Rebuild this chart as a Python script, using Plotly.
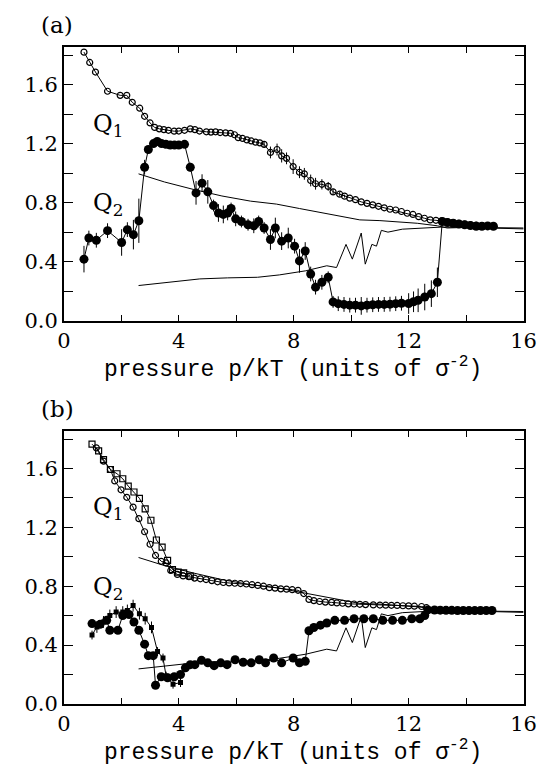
import plotly.graph_objects as go

# ---------------- data ----------------
# Panel (a)
q1a_x = [0.70, 0.90, 1.10, 1.52, 1.96, 2.19, 2.38, 2.64, 2.81, 3.00, 3.16, 3.32, 3.48, 3.64, 3.84, 4.00,
         4.20, 4.40, 4.56, 4.72, 4.96, 5.12, 5.28, 5.44, 5.63, 5.80, 5.94, 6.07, 6.22, 6.37, 6.52, 6.67,
         6.82, 6.97, 7.19, 7.42, 7.58, 7.75, 7.98, 8.20, 8.37, 8.59, 8.76, 8.98, 9.20, 9.37, 9.60, 9.77,
         9.95, 10.15, 10.35, 10.55, 10.75, 10.95, 11.15, 11.35, 11.55, 11.75, 11.95, 12.15, 12.35, 12.55,
         12.75, 12.95, 13.15, 13.35, 13.55, 13.75, 13.95, 14.15, 14.35, 14.55, 14.75, 14.95]
q1a_y = [1.82, 1.75, 1.685, 1.555, 1.527, 1.527, 1.48, 1.44, 1.385, 1.34, 1.31, 1.30, 1.295, 1.29, 1.284, 1.285,
         1.29, 1.30, 1.295, 1.285, 1.28, 1.278, 1.28, 1.275, 1.273, 1.27, 1.26, 1.24, 1.235, 1.225, 1.218, 1.21,
         1.205, 1.195, 1.14, 1.16, 1.117, 1.10, 1.044, 1.006, 0.995, 0.95, 0.928, 0.924, 0.91, 0.873, 0.857, 0.844,
         0.83, 0.82, 0.805, 0.795, 0.785, 0.775, 0.765, 0.755, 0.75, 0.74, 0.728, 0.72, 0.705, 0.694,
         0.683, 0.68, 0.677, 0.67, 0.665, 0.66, 0.655, 0.65, 0.648, 0.645, 0.642, 0.64]
q1a_e = [0, 0, 0, 0, 0, 0, 0, 0, 0, 0, 0, 0, 0, 0, 0, 0,
         0, 0, 0, 0, 0, 0, 0, 0, 0, 0, 0, 0, 0, 0, 0, 0,
         0, 0.02, 0.04, 0.04, 0.045, 0.04, 0.05, 0.04, 0.04, 0.04, 0.04, 0.035, 0.03, 0.02, 0.015, 0.01,
         0, 0, 0, 0, 0, 0, 0, 0, 0, 0, 0, 0, 0, 0,
         0, 0, 0, 0, 0, 0, 0, 0, 0, 0, 0, 0]

q2a_x = [0.70, 0.87, 1.13, 1.52, 2.01, 2.21, 2.42, 2.61, 2.81, 2.94, 3.12, 3.25, 3.40, 3.55, 3.70, 3.85,
         4.00, 4.20, 4.40, 4.60, 4.81, 5.01, 5.21, 5.38, 5.55, 5.70, 5.82, 5.98, 6.18, 6.41, 6.61, 6.78,
         6.97, 7.19, 7.36, 7.58, 7.81, 8.03, 8.20, 8.40, 8.59, 8.76, 8.98, 9.20, 9.37, 9.55, 9.75, 9.95,
         10.15, 10.35, 10.55, 10.75, 10.95, 11.15, 11.35, 11.55, 11.75, 12.00, 12.17, 12.33, 12.56, 12.79,
         13.00, 13.17, 13.35, 13.55, 13.75, 13.95, 14.15, 14.35, 14.55, 14.75, 14.95]
q2a_y = [0.417, 0.56, 0.545, 0.61, 0.53, 0.617, 0.583, 0.677, 1.04, 1.16, 1.20, 1.215, 1.20, 1.195, 1.19, 1.19,
         1.19, 1.195, 1.04, 0.866, 0.932, 0.873, 0.78, 0.73, 0.72, 0.73, 0.76, 0.69, 0.672, 0.65, 0.643, 0.672,
         0.628, 0.55, 0.628, 0.539, 0.56, 0.505, 0.405, 0.472, 0.316, 0.227, 0.26, 0.294, 0.127, 0.115, 0.11, 0.105,
         0.105, 0.10, 0.105, 0.108, 0.11, 0.11, 0.112, 0.115, 0.118, 0.116, 0.128, 0.138, 0.16, 0.183,
         0.26, 0.672, 0.665, 0.66, 0.655, 0.65, 0.645, 0.64, 0.64, 0.642, 0.64]
q2a_e = [0.09, 0.05, 0.05, 0.05, 0.09, 0.05, 0.10, 0.15, 0.05, 0.02, 0.02, 0.01, 0.01, 0.01, 0.01, 0.01,
         0.01, 0.01, 0.03, 0.08, 0.06, 0.08, 0.04, 0.06, 0.06, 0.05, 0.04, 0.05, 0.04, 0.04, 0.05, 0.04,
         0.04, 0.07, 0.07, 0.06, 0.07, 0.05, 0.08, 0.06, 0.05, 0.05, 0.05, 0.04, 0.04, 0.05, 0.05, 0.05,
         0.05, 0.06, 0.05, 0.05, 0.05, 0.05, 0.05, 0.05, 0.05, 0.07, 0.07, 0.08, 0.09, 0.09,
         0.10, 0.02, 0.01, 0.01, 0.01, 0.01, 0.01, 0.01, 0.01, 0.01, 0.01]

# Theory curves (same in both panels)
th_hi_x = [2.6, 3.5, 4.5, 5.5, 6.5, 7.4, 8.2, 9.0, 9.65, 10.3, 11.0, 11.55, 12.3, 13.0, 13.34, 14.0, 15.0, 16.0]
th_hi_y = [0.995, 0.94, 0.89, 0.845, 0.81, 0.79, 0.76, 0.73, 0.705, 0.683, 0.678, 0.672, 0.66, 0.643, 0.628,
           0.632, 0.628, 0.622]
th_lo_x = [2.6, 3.5, 4.73, 5.7, 6.74, 7.5, 8.42, 9.15, 9.49, 9.82, 10.04, 10.35, 10.49, 10.72, 10.88, 11.05,
           11.28, 11.78, 12.5, 13.12, 14.0, 15.0, 16.0]
th_lo_y = [0.238, 0.258, 0.283, 0.29, 0.294, 0.31, 0.338, 0.372, 0.36, 0.517, 0.417, 0.594, 0.383, 0.517,
           0.505, 0.612, 0.60, 0.62, 0.628, 0.634, 0.632, 0.63, 0.628]

# Panel (b)
q1b_sq_x = [0.98, 1.21, 1.38, 1.62, 1.85, 2.05, 2.24, 2.44, 2.63, 2.83, 3.03, 3.22, 3.42, 3.61, 3.78, 3.98, 4.17, 4.40]
q1b_sq_y = [1.765, 1.72, 1.66, 1.593, 1.564, 1.53, 1.48, 1.44, 1.397, 1.326, 1.248, 1.114, 1.065, 0.975, 0.913,
            0.895, 0.891, 0.869]
q1b_ci_x = [1.13, 1.38, 1.62, 1.77, 1.99, 2.19, 2.41, 2.61, 2.81, 3.00, 3.19, 3.39, 3.56, 3.72, 3.95, 4.15,
            4.35, 4.55, 4.75, 4.95, 5.15, 5.35, 5.55, 5.75, 5.95, 6.15, 6.35, 6.55, 6.75, 6.95, 7.15, 7.35,
            7.55, 7.75, 7.95, 8.15, 8.35, 8.53, 8.70, 8.90, 9.10, 9.32, 9.50, 9.70, 9.90, 10.10, 10.30, 10.50,
            10.77, 11.00, 11.20, 11.40, 11.60, 11.80, 12.00, 12.20, 12.45, 12.62]
q1b_ci_y = [1.74, 1.65, 1.593, 1.515, 1.455, 1.404, 1.337, 1.259, 1.17, 1.085, 1.009, 0.969, 0.958, 0.907, 0.88, 0.87,
            0.865, 0.855, 0.85, 0.845, 0.838, 0.83, 0.825, 0.822, 0.82, 0.818, 0.815, 0.81, 0.805, 0.80, 0.79, 0.787,
            0.782, 0.78, 0.776, 0.772, 0.75, 0.71, 0.702, 0.696, 0.692, 0.69, 0.686, 0.684, 0.68, 0.679, 0.677, 0.675,
            0.673, 0.672, 0.671, 0.67, 0.669, 0.667, 0.666, 0.664, 0.662, 0.654]

q2b_ci_x = [0.98, 1.26, 1.49, 1.60, 1.88, 2.05, 2.27, 2.44, 2.61, 2.81, 2.94, 3.11, 3.19, 3.39, 3.61, 3.84,
            4.06, 4.23, 4.40, 4.56, 4.79, 5.01, 5.23, 5.46, 5.68, 5.96, 6.24, 6.52, 6.80, 7.02, 7.30, 7.58,
            7.98, 8.20, 8.40, 8.53, 8.70, 8.93, 9.15, 9.43, 9.77, 10.10, 10.44, 10.77, 11.10, 11.44, 11.78, 12.11,
            12.39, 12.56, 12.67, 12.90, 13.10, 13.30, 13.50, 13.70, 13.90, 14.10, 14.30, 14.50, 14.70, 14.90]
q2b_ci_y = [0.546, 0.541, 0.568, 0.501, 0.501, 0.601, 0.608, 0.557, 0.501, 0.406, 0.328, 0.328, 0.127, 0.185, 0.178, 0.185,
            0.20, 0.245, 0.267, 0.267, 0.296, 0.279, 0.26, 0.279, 0.267, 0.30, 0.283, 0.279, 0.30, 0.279, 0.312, 0.279,
            0.312, 0.279, 0.29, 0.497, 0.519, 0.535, 0.55, 0.568, 0.568, 0.579, 0.579, 0.579, 0.568, 0.568, 0.568, 0.579,
            0.579, 0.601, 0.639, 0.638, 0.637, 0.636, 0.636, 0.635, 0.635, 0.634, 0.634, 0.635, 0.635, 0.635]
q2b_sq_x = [0.98, 1.15, 1.38, 1.60, 1.82, 2.05, 2.21, 2.41, 2.63, 2.83, 3.05, 3.26, 3.45, 3.56, 3.80, 4.06]
q2b_sq_y = [0.468, 0.523, 0.557, 0.601, 0.624, 0.624, 0.635, 0.668, 0.613, 0.579, 0.52, 0.356, 0.312, 0.189, 0.134, 0.145]
q2b_sq_e = [0.03, 0.04, 0.04, 0.04, 0.04, 0.04, 0.04, 0.04, 0.04, 0.04, 0.04, 0.03, 0.03, 0.03, 0.03, 0.03]

x_tickvals = [0, 2, 4, 6, 8, 10, 12, 14, 16]
x_ticktext = ["0", "", "4", "", "8", "", "12", "", "16"]
y_tickvals = [0.0, 0.2, 0.4, 0.6, 0.8, 1.0, 1.2, 1.4, 1.6, 1.8]
y_ticktext = ["0.0", "", "0.4", "", "0.8", "", "1.2", "", "1.6", ""]

# ---------------- figure ----------------
W, H = 552, 775
fig = go.Figure()

LINE = dict(color="black", width=1)


def err(arr):
    return dict(type="data", array=arr, visible=True, width=0, thickness=1, color="black")


def add(x, y, xa, ya, marker=None, e=None, mode="lines+markers"):
    fig.add_trace(go.Scatter(
        x=x, y=y, xaxis=xa, yaxis=ya, mode=mode, line=LINE,
        marker=marker, error_y=err(e) if e is not None else None,
        showlegend=False, hoverinfo="skip"))


# panel (a)
add(th_hi_x, th_hi_y, "x", "y", mode="lines")
add(th_lo_x, th_lo_y, "x", "y", mode="lines")
add(q1a_x, q1a_y, "x", "y",
    marker=dict(symbol="circle-open", size=6, color="black", line=dict(width=1.2, color="black")), e=q1a_e)
add(q2a_x, q2a_y, "x", "y",
    marker=dict(symbol="circle", size=9, color="black"), e=q2a_e)

# panel (b)
add(th_hi_x, th_hi_y, "x2", "y2", mode="lines")
add(th_lo_x, th_lo_y, "x2", "y2", mode="lines")
add(q1b_sq_x, q1b_sq_y, "x2", "y2",
    marker=dict(symbol="square-open", size=6, color="black", line=dict(width=1.2, color="black")))
add(q1b_ci_x, q1b_ci_y, "x2", "y2",
    marker=dict(symbol="circle-open", size=6, color="black", line=dict(width=1.2, color="black")))
add(q2b_sq_x, q2b_sq_y, "x2", "y2",
    marker=dict(symbol="square", size=5, color="black"), e=q2b_sq_e)
add(q2b_ci_x, q2b_ci_y, "x2", "y2",
    marker=dict(symbol="circle", size=9, color="black"))

x0, x1 = 59 / W, 536 / W
ya_dom = [1 - 325.7 / H, 1 - 48 / H]
yb_dom = [1 - 715 / H, 1 - 438 / H]

TICKFONT = dict(family="DejaVu Serif", size=21, color="black")


def xaxis(anchor):
    return dict(domain=[x0, x1], range=[0, 16], anchor=anchor, showgrid=False, zeroline=False,
                showline=True, linecolor="black", linewidth=1.5, mirror="ticks",
                ticks="inside", ticklen=6, tickwidth=1.2, tickcolor="black",
                tickmode="array", tickvals=x_tickvals, ticktext=x_ticktext, tickfont=TICKFONT)


def yaxis(anchor, dom):
    return dict(domain=dom, range=[0, 1.853], anchor=anchor, showgrid=False, zeroline=False,
                showline=True, linecolor="black", linewidth=1.5, mirror="ticks",
                ticks="inside", ticklen=9, tickwidth=1.2, tickcolor="black",
                tickmode="array", tickvals=y_tickvals, ticktext=y_ticktext, tickfont=TICKFONT)


AXTITLE = "pressure p/kT (units of σ<sup>-2</sup>)"
LABFONT = dict(family="DejaVu Serif", size=23, color="black")
QFONT = dict(family="DejaVu Serif", size=24, color="black")
TFONT = dict(family="Liberation Mono", size=23, color="black")
annots = [
    dict(x=52 / W, y=1 - 25 / H, text="(a)", font=LABFONT),
    dict(x=52 / W, y=1 - 415 / H, text="(b)", font=LABFONT),
    dict(x=105 / W, y=1 - 127 / H, text="Q<sub>1</sub>", font=QFONT),
    dict(x=105 / W, y=1 - 208 / H, text="Q<sub>2</sub>", font=QFONT),
    dict(x=105 / W, y=1 - 517 / H, text="Q<sub>1</sub>", font=QFONT),
    dict(x=105 / W, y=1 - 598 / H, text="Q<sub>2</sub>", font=QFONT),
    dict(x=297 / W, y=1 - 374 / H, text=AXTITLE, font=TFONT),
    dict(x=297 / W, y=1 - 763 / H, text=AXTITLE, font=TFONT),
]
for a in annots:
    a.update(xref="paper", yref="paper", showarrow=False, xanchor="center", yanchor="middle")

fig.update_layout(
    width=W, height=H, margin=dict(l=0, r=0, t=0, b=0),
    paper_bgcolor="white", plot_bgcolor="white",
    xaxis=xaxis("y"), yaxis=yaxis("x", ya_dom),
    xaxis2=xaxis("y2"), yaxis2=yaxis("x2", yb_dom),
    annotations=annots,
)

fig.write_html("out.html")
